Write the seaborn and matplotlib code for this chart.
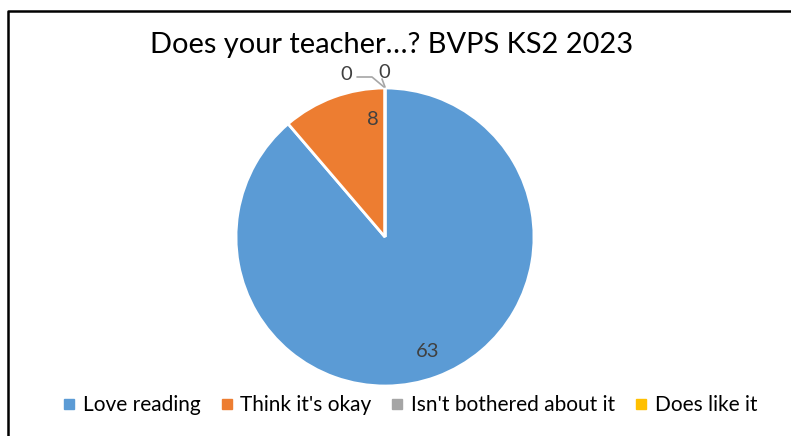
import numpy as np
import matplotlib
matplotlib.use("Agg")
import matplotlib.pyplot as plt
from matplotlib.lines import Line2D
import seaborn as sns

categories = ["Love reading", "Think it's okay", "Isn't bothered about it", "Does like it"]
values = [63, 8, 0, 0]
colors = ["#5B9BD5", "#ED7D31", "#A5A5A5", "#FFC000"]
title = "Does your teacher\u2026? BVPS KS2 2023"

sns.set_theme(style="white")
plt.rcParams["font.family"] = ["Lato", "DejaVu Sans"]

W, H = 791, 436
fig = plt.figure(figsize=(W / 100, H / 100), dpi=100)
ax = fig.add_axes([0, 0, 1, 1])

cx, cy, R = 385, H - 237, 149
wedges, _ = ax.pie(values, colors=colors, startangle=90, counterclock=False,
                   center=(cx, cy), radius=R,
                   wedgeprops=dict(edgecolor="white", linewidth=2))
ax.set_xlim(0, W)
ax.set_ylim(0, H)
ax.set_aspect("auto")
ax.axis("off")

txtcol = "#404040"
# inside labels
for i, (w, v) in enumerate(zip(wedges, values)):
    if v == 0:
        continue
    span = w.theta2 - w.theta1
    if i == 0:
        ang, r = w.theta1 + 0.5 * span, 0.82
    else:
        ang, r = w.theta1 + 0.15 * span, 0.79
    x = cx + R * r * np.cos(np.radians(ang))
    y = cy + R * r * np.sin(np.radians(ang))
    ax.text(x, y, str(v), ha="center", va="center", fontsize=14.5, color=txtcol)

# zero labels with leader lines
zero_idx = [i for i, v in enumerate(values) if v == 0]
lead = "#A6A6A6"
for k, i in enumerate(zero_idx):
    w = wedges[i]
    ang = np.radians(w.theta1)
    ex, ey = cx + R * np.cos(ang), cy + R * np.sin(ang)
    if k == 0:
        lx, ly = ex - 39, ey + 14
        ax.plot([lx + 11, ex - 13, ex - 1], [ey + 11, ey + 11, ey + 1], color=lead, lw=1.2)
    else:
        lx, ly = ex - 1, ey + 16
        ax.plot([ex - 3, ex], [ey + 9, ey + 1], color=lead, lw=1.2)
    ax.text(lx, ly, "0", ha="center", va="center", fontsize=14.5, color=txtcol)

ax.text(392, H - 45, title, ha="center", va="center", fontsize=20.9, color="black")

handles = [Line2D([], [], marker="s", linestyle="none", markersize=7,
                  markerfacecolor=c, markeredgecolor=c) for c in colors]
fig.legend(handles, categories, loc="center", bbox_to_anchor=(409 / W, 1 - 405 / H),
           ncol=4, frameon=False, fontsize=15, handletextpad=0.25,
           columnspacing=0.85, handlelength=0.8, labelcolor="black")

# chart border
ax.plot([8, 8, W + 5], [-5, H - 11, H - 11], color="black", lw=1.8, clip_on=False)

fig.savefig("out.png", dpi=100)
